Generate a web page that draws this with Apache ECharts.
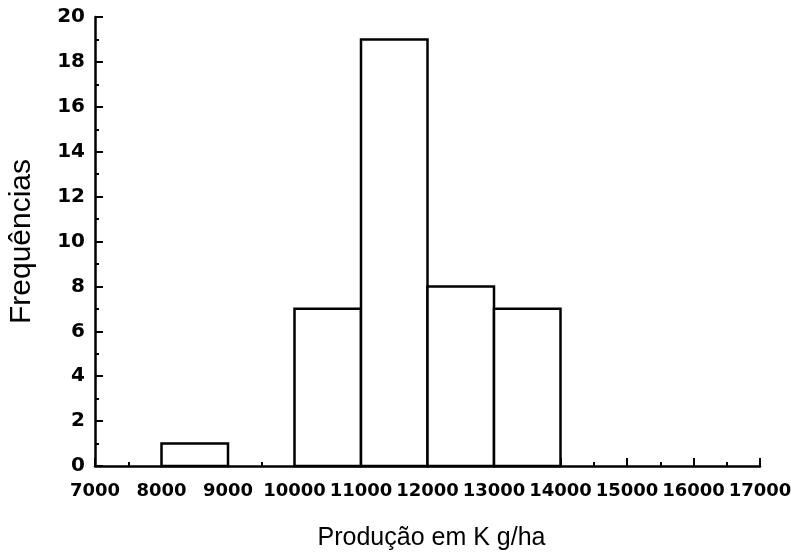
<!DOCTYPE html>
<html>
<head>
<meta charset="utf-8">
<script src="https://cdn.jsdelivr.net/npm/echarts@6/dist/echarts.min.js"></script>
<style>
  html, body { margin: 0; padding: 0; background: #fff; }
  #chart { width: 791px; height: 559px; }
</style>
</head>
<body>
<div id="chart"></div>
<script>
// classes do histograma (limite inferior, limite superior) e frequências
const binStart = [8000, 10000, 11000, 12000, 13000]
const binEnd = [9000, 11000, 12000, 13000, 14000]
const frequencias = [1, 7, 19, 8, 7]

const chart = echarts.init(document.getElementById('chart'))

const option = {
  animation: false,
  grid: {
    left: 95,
    right: 31,
    top: 17,
    bottom: 93,
    containLabel: false,
    outerBoundsMode: 'none'
  },
  xAxis: {
    type: 'value',
    min: 7000,
    max: 17000,
    interval: 1000,
    name: 'Produção em K g/ha',
    nameLocation: 'middle',
    nameGap: 60,
    nameTextStyle: { color: '#000', fontFamily: 'Liberation Sans', fontSize: 25, padding: [0, 0, 0, 8] },
    axisLine: { lineStyle: { color: '#000', width: 2.5 } },
    axisTick: { inside: true, length: 8, lineStyle: { color: '#000', width: 2 } },
    minorTick: { show: true, splitNumber: 2, length: 4, lineStyle: { color: '#000', width: 2 } },
    splitLine: { show: false },
    axisLabel: {
      color: '#000',
      fontFamily: 'DejaVu Sans',
      fontWeight: 'bold',
      fontSize: 18,
      margin: 16,
      showMinLabel: true,
      showMaxLabel: true,
      hideOverlap: false,
      formatter: (v) => String(v)
    }
  },
  yAxis: {
    type: 'value',
    min: 0,
    max: 20,
    interval: 2,
    name: 'Frequências',
    nameLocation: 'middle',
    nameGap: 58,
    nameTextStyle: { color: '#000', fontFamily: 'Liberation Sans', fontSize: 30 },
    axisLine: { show: true, lineStyle: { color: '#000', width: 2.5 } },
    axisTick: { show: true, inside: true, length: 8, lineStyle: { color: '#000', width: 2 } },
    minorTick: { show: true, splitNumber: 2, length: 4, lineStyle: { color: '#000', width: 2 } },
    splitLine: { show: false },
    axisLabel: {
      color: '#000',
      fontFamily: 'DejaVu Sans',
      fontWeight: 'bold',
      fontSize: 20,
      margin: 10,
      showMinLabel: true,
      showMaxLabel: true
    }
  },
  series: [
    {
      type: 'custom',
      data: binStart.map((s, i) => [s, binEnd[i], frequencias[i]]),
      encode: { x: [0, 1], y: 2 },
      renderItem: (params, api) => {
        const p0 = api.coord([api.value(0), api.value(2)])
        const p1 = api.coord([api.value(1), 0])
        return {
          type: 'rect',
          shape: { x: p0[0], y: p0[1], width: p1[0] - p0[0], height: p1[1] - p0[1] },
          style: { fill: '#fff', stroke: '#000', lineWidth: 2.5 }
        }
      }
    }
  ]
}

chart.setOption(option)
window.addEventListener('resize', () => chart.resize())
</script>
</body>
</html>
